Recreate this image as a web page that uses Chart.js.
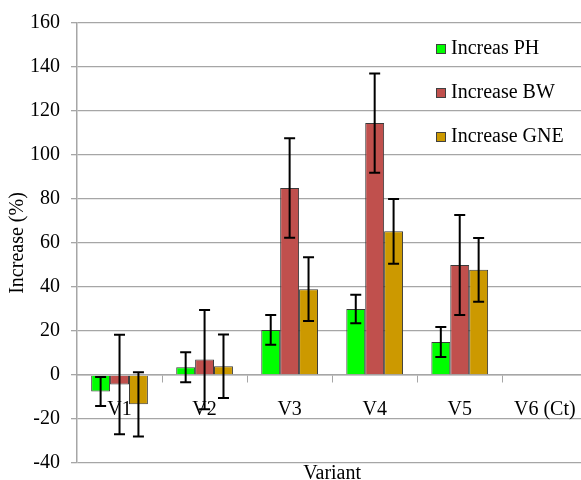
<!DOCTYPE html>
<html>
<head>
<meta charset="utf-8">
<script src="https://cdn.jsdelivr.net/npm/chart.js@4.4.0/dist/chart.umd.min.js"></script>
<style>
    html, body { margin: 0; padding: 0; overflow: hidden; background: #fff; }
    canvas { display: block; }
</style>
</head>
<body>
<canvas id="chart" width="592" height="486"></canvas>
<script>
// Data
const categories = ['V1', 'V2', 'V3', 'V4', 'V5', 'V6 (Ct)'];
const seriesLabels = ['Increas PH', 'Increase BW', 'Increase GNE'];
const phValues = [-7.5, 3.5, 20.5, 30, 15, null];
const phErrors = [6.6, 6.8, 6.8, 6.5, 6.8, null];
const bwValues = [-4.3, 7, 85, 114.5, 50, null];
const bwErrors = [22.6, 22.6, 22.6, 22.6, 22.7, null];
const gneValues = [-13.3, 4, 39, 65.3, 47.8, null];
const gneErrors = [14.6, 14.4, 14.5, 14.7, 14.5, null];
const yTicks = { min: -40, max: 160, step: 20 };

const FONT = 'Liberation Serif';
const GRID = '#a6a6a6';

Chart.defaults.font.family = FONT;
Chart.defaults.font.size = 20;
Chart.defaults.color = '#000';

// Error bars, drawn through the y scale
const errorBars = {
    id: 'errorBars',
    afterDatasetsDraw(chart) {
        const ctx = chart.ctx;
        const yScale = chart.scales.y;
        ctx.save();
        ctx.strokeStyle = '#000';
        ctx.lineWidth = 2;
        chart.data.datasets.forEach((ds, i) => {
            const meta = chart.getDatasetMeta(i);
            meta.data.forEach((bar, j) => {
                const v = ds.data[j];
                const e = ds.errors[j];
                if (v == null || e == null) return;
                const top = yScale.getPixelForValue(v + e);
                const bottom = yScale.getPixelForValue(v - e);
                const cap = 5.5;
                ctx.beginPath();
                ctx.moveTo(bar.x, top);
                ctx.lineTo(bar.x, bottom);
                ctx.moveTo(bar.x - cap, top);
                ctx.lineTo(bar.x + cap, top);
                ctx.moveTo(bar.x - cap, bottom);
                ctx.lineTo(bar.x + cap, bottom);
                ctx.stroke();
            });
        });
        ctx.restore();
    }
};

// Legend placed inside the plot, top right
const innerLegend = {
    id: 'innerLegend',
    afterDraw(chart) {
        const ctx = chart.ctx;
        const x = 436;
        const rows = [49, 93, 137];
        ctx.save();
        ctx.font = '20px "' + FONT + '"';
        ctx.textBaseline = 'middle';
        ctx.textAlign = 'left';
        chart.data.datasets.forEach((ds, i) => {
            const y = rows[i];
            ctx.fillStyle = ds.backgroundColor;
            ctx.fillRect(x, y - 5, 10, 10);
            ctx.strokeStyle = '#404040';
            ctx.lineWidth = 1;
            ctx.strokeRect(x + 0.5, y - 4.5, 9, 9);
            ctx.fillStyle = '#000';
            ctx.fillText(ds.label, x + 15, y);
        });
        ctx.restore();
    }
};

const makeSet = (label, data, errors, color) => ({
    label,
    data,
    errors,
    backgroundColor: color,
    borderColor: '#3a3a3a',
    borderWidth: 1,
    barPercentage: 1,
    categoryPercentage: 0.667
});

new Chart(document.getElementById('chart'), {
    type: 'bar',
    data: {
        labels: categories,
        datasets: [
            makeSet(seriesLabels[0], phValues, phErrors, '#00ff00'),
            makeSet(seriesLabels[1], bwValues, bwErrors, '#c0504d'),
            makeSet(seriesLabels[2], gneValues, gneErrors, '#cc9900')
        ]
    },
    options: {
        responsive: false,
        animation: false,
        layout: { padding: { top: 22, left: 6, right: 2, bottom: 0 } },
        plugins: {
            legend: { display: false },
            tooltip: { enabled: false }
        },
        scales: {
            x: {
                position: { y: 0 },
                grid: {
                    drawOnChartArea: false,
                    drawTicks: true,
                    tickLength: 7,
                    color: GRID
                },
                border: { display: true, color: GRID, width: 1.5 },
                ticks: { padding: 16, font: { size: 20 } }
            },
            x2: {
                type: 'category',
                position: 'bottom',
                grid: { display: false, drawTicks: false, tickLength: 0 },
                border: { display: false },
                ticks: { display: false },
                title: {
                    display: true,
                    text: 'Variant',
                    padding: 0,
                    font: { size: 20, lineHeight: 1.05 }
                }
            },
            y: {
                min: yTicks.min,
                max: yTicks.max,
                ticks: { stepSize: yTicks.step, padding: 11, font: { size: 20 } },
                grid: { color: GRID, lineWidth: 1.3, tickLength: 6 },
                border: { display: true, color: GRID, width: 1.5 },
                title: {
                    display: true,
                    text: 'Increase (%)',
                    padding: 0,
                    font: { size: 20, lineHeight: 1.2 }
                },
                afterFit(scale) {
                    scale.width = 71;
                }
            }
        }
    },
    plugins: [errorBars, innerLegend]
});
</script>
</body>
</html>
